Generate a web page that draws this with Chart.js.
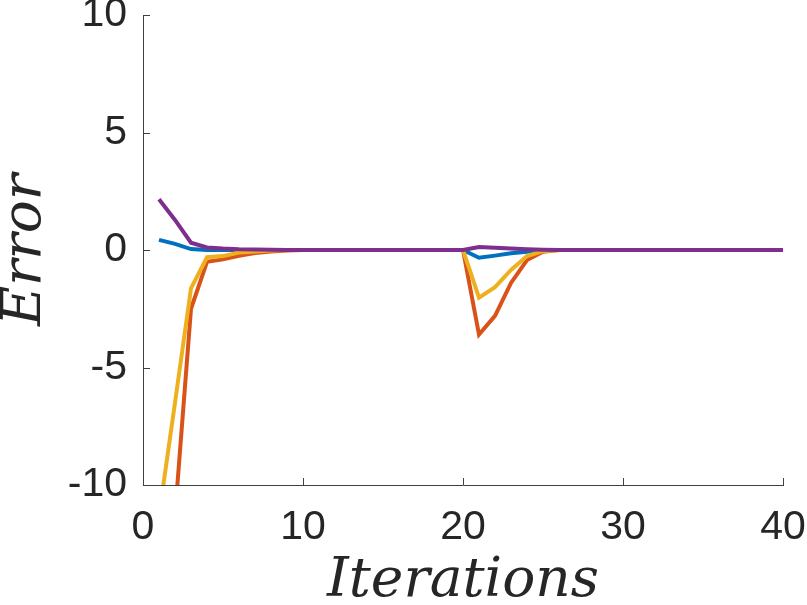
<!DOCTYPE html>
<html>
<head>
<meta charset="utf-8">
<script src="https://cdn.jsdelivr.net/npm/chart.js@4/dist/chart.umd.min.js"></script>
<style>
html,body{margin:0;padding:0;background:#fff;}
#wrap{width:807px;height:605px;}
</style>
</head>
<body>
<div id="wrap"><canvas id="c" width="807" height="605"></canvas></div>
<script>
const iterations = [1,2,3,4,5,6,7,8,9,10,11,12,13,14,15,16,17,18,19,20,21,22,23,24,25,26,27,28,29,30,31,32,33,34,35,36,37,38,39,40];
const errBlue   = [0.43,0.26,0.04,0,0,0,0,0,0,0,0,0,0,0,0,0,0,0,0,0,-0.33,-0.24,-0.14,-0.07,0,0,0,0,0,0,0,0,0,0,0,0,0,0,0,0];
const errOrange = [-20,-11.3,-2.5,-0.5,-0.4,-0.25,-0.13,-0.06,-0.02,0,0,0,0,0,0,0,0,0,0,0,-3.6,-2.8,-1.4,-0.43,-0.07,0,0,0,0,0,0,0,0,0,0,0,0,0,0,0];
const errYellow = [-11.3,-6.5,-1.63,-0.31,-0.26,-0.11,-0.06,-0.02,0,0,0,0,0,0,0,0,0,0,0,0,-2.03,-1.58,-0.85,-0.26,-0.05,0,0,0,0,0,0,0,0,0,0,0,0,0,0,0];
const errPurple = [2.16,1.28,0.31,0.11,0.06,0.03,0.02,0.01,0,0,0,0,0,0,0,0,0,0,0,0,0.13,0.1,0.06,0.03,0.01,0,0,0,0,0,0,0,0,0,0,0,0,0,0,0];
const xTickValues = [0,10,20,30,40];
const yTickValues = [-10,-5,0,5,10];
const xTitle = 'Iterations';
const yTitle = 'Error';

const toPts = arr => iterations.map((x,i)=>({x:x,y:arr[i]}));
const axisColor = '#404040';
const textColor = '#262626';

const inwardTicks = {
  id:'inwardTicks',
  beforeDatasetsDraw(chart){
    const {ctx, chartArea:{left,bottom}} = chart;
    const xs = chart.scales.x, ys = chart.scales.y;
    ctx.save();
    ctx.strokeStyle = axisColor; ctx.lineWidth = 1;
    ctx.beginPath();
    xs.ticks.forEach(t=>{const p=Math.round(xs.getPixelForValue(t.value))+0.5; ctx.moveTo(p,bottom); ctx.lineTo(p,bottom-7);});
    ys.ticks.forEach(t=>{const p=Math.round(ys.getPixelForValue(t.value))+0.5; ctx.moveTo(left,p); ctx.lineTo(left+7,p);});
    ctx.stroke();
    ctx.restore();
  }
};

const mk = (data,color,order)=>({data:toPts(data),borderColor:color,backgroundColor:color,borderWidth:4,pointRadius:0,tension:0,fill:false,order:order});

new Chart(document.getElementById('c'),{
  type:'line',
  data:{datasets:[
    mk(errBlue,'#0072BD',3),
    mk(errOrange,'#D95319',2),
    mk(errYellow,'#EDB120',1),
    mk(errPurple,'#7E2F8E',0)
  ]},
  options:{
    responsive:false,
    animation:false,
    devicePixelRatio:1,
    layout:{padding:{top:15,right:24,left:0,bottom:0}},
    plugins:{legend:{display:false},tooltip:{enabled:false}},
    scales:{
      x:{
        type:'linear',min:0,max:40,
        afterBuildTicks:s=>{s.ticks = xTickValues.map(v=>({value:v}));},
        afterFit:s=>{s.height=120; s.paddingLeft=0; s.paddingRight=0;},
        grid:{display:false,drawTicks:false},
        border:{display:true,color:axisColor,width:1},
        ticks:{color:textColor,padding:18,maxRotation:0,autoSkip:false,font:{family:'"Liberation Sans", Arial, sans-serif',size:41}},
        title:{display:true,text:xTitle,color:textColor,padding:0,font:{family:'"DejaVu Serif", serif',style:'italic',size:55,lineHeight:0.836}}
      },
      y:{
        type:'linear',min:-10,max:10,
        afterBuildTicks:s=>{s.ticks = yTickValues.map(v=>({value:v}));},
        afterFit:s=>{s.width=143; s.paddingTop=0; s.paddingBottom=0;},
        grid:{display:false,drawTicks:false},
        border:{display:true,color:axisColor,width:1},
        ticks:{color:textColor,padding:16,autoSkip:false,font:{family:'"Liberation Sans", Arial, sans-serif',size:41}},
        title:{display:true,text:yTitle,color:textColor,padding:0,font:{family:'"DejaVu Serif", serif',style:'italic',size:55,lineHeight:0.945}}
      }
    }
  },
  plugins:[inwardTicks]
});
</script>
</body>
</html>
